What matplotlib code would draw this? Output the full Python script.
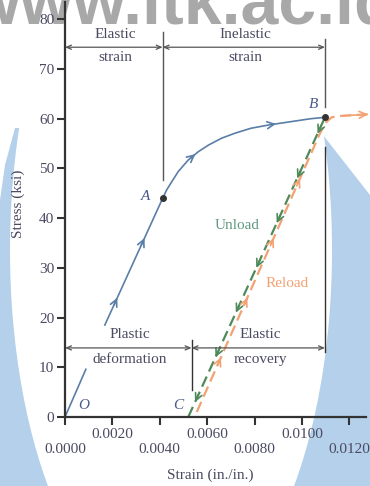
import numpy as np
import matplotlib.pyplot as plt
from matplotlib.patches import Polygon, Ellipse

plt.rcParams['font.family'] = ['Liberation Serif', 'DejaVu Serif']

# loading path O -> A (elastic part, broken where the labels sit)
load1_strain = [0.0, 0.00088]
load1_stress = [0.0, 9.6]
load2_strain = [0.00168, 0.00412]
load2_stress = [18.5, 44.0]
# A -> B (inelastic part)
curve_strain = [0.00412, 0.00429, 0.0045, 0.00478, 0.0052, 0.00563, 0.00605, 0.00661,
                0.00717, 0.00785, 0.00865, 0.0095, 0.01034, 0.01097]
curve_stress = [44.0, 45.7, 47.3, 49.4, 51.7, 53.4, 54.7, 56.1,
                57.1, 58.1, 58.8, 59.4, 60.0, 60.3]
# B -> C unloading
unload_strain = [0.0052, 0.01097]
unload_stress = [0.0, 60.3]
# C -> B -> reloading
reload_strain = [0.00556, 0.01076, 0.01100, 0.01125, 0.01170, 0.01278]
reload_stress = [1.0, 57.1, 59.2, 60.3, 60.6, 60.9]

point_A = (0.00412, 44.0)
point_B = (0.01097, 60.3)

xticks = [0.0, 0.002, 0.004, 0.006, 0.008, 0.010, 0.012]
yticks = [0, 10, 20, 30, 40, 50, 60, 70, 80]

# arrow positions along the paths
load_arrows = [24, 36]            # stress
curve_arrows = [0.0055, 0.0089]   # strain
unload_arrows = [57, 48, 39, 30, 21, 12, 3]
reload_arrows = [12, 24, 36, 48]

blue = '#5a7ea8'
green = '#4f8a5b'
orange = '#f2a272'
txt = '#4a4a62'
dim = '#555555'

W, H = 370, 486
fig = plt.figure(figsize=(3.7, 4.86), dpi=100)


def fx(px):
    return px / W


def fy(py):
    return 1 - py / H


# watermark background
bg = Polygon([(fx(15), fy(128)), (fx(5), fy(165)), (fx(0), fy(200)), (fx(0), fy(486)),
              (fx(370), fy(486)), (fx(370), fy(195)), (fx(323), fy(135))],
             closed=True, transform=fig.transFigure, facecolor='#b4d0ea',
             edgecolor='none', zorder=-3)
fig.patches.append(bg)
hole = Ellipse((fx(171), fy(250)), 322 / W, 732 / H, transform=fig.transFigure,
               facecolor='white', edgecolor='none', zorder=-2)
fig.patches.append(hole)
fig.text(fx(-33), fy(23), 'www.itk.ac.id', fontsize=49, fontweight='bold',
         family='Liberation Sans', color='#a8a8a8', va='baseline', zorder=-1)

ax = fig.add_axes([fx(65), fy(417), 301 / W, 415 / H])
ax.set_facecolor('none')
ax.set_xlim(0, 0.0127)
ax.set_ylim(0, 83.5)

for s in ['top', 'right']:
    ax.spines[s].set_visible(False)
for s in ['left', 'bottom']:
    ax.spines[s].set_linewidth(1.6)
    ax.spines[s].set_color('#333333')

ax.set_xticks(xticks)
ax.set_xticklabels([('\n' if i % 2 == 0 else '') + '%.4f' % v for i, v in enumerate(xticks)])
ax.set_yticks(yticks)
ax.tick_params(direction='out', length=5.8, width=1.5, color='#333333',
               labelsize=11, labelcolor=txt, pad=2)

ax.set_xlabel('Strain (in./in.)', fontsize=11, color=txt)
ax.xaxis.set_label_coords(0.482, -0.125)
ax.set_ylabel('Stress (ksi)', fontsize=11, color=txt)
ax.yaxis.set_label_coords(-0.133, 0.513)

# curves
ax.plot(load1_strain, load1_stress, color=blue, lw=1.2)
ax.plot(load2_strain + curve_strain[1:], load2_stress + curve_stress[1:], color=blue, lw=1.2)
ax.plot(unload_strain, unload_stress, color=green, lw=1.6, dashes=(5, 2.5))
ax.plot(reload_strain, reload_stress, color=orange, lw=1.6, dashes=(5, 2.5), clip_on=False)
ax.plot(*zip(point_A, point_B), 'o', color='#333333', ms=4, zorder=5)

head = '->,head_length=0.5,head_width=0.25'


def arrow(tip, tail, color):
    ax.annotate('', xy=tip, xytext=tail, annotation_clip=False,
                arrowprops=dict(arrowstyle=head, color=color, lw=1.2,
                                shrinkA=0, shrinkB=0))


for s in load_arrows:
    arrow((np.interp(s, load2_stress, load2_strain), s),
          (np.interp(s - 1.5, load2_stress, load2_strain), s - 1.5), blue)
for e in curve_arrows:
    arrow((e, np.interp(e, curve_strain, curve_stress)),
          (e - 0.0002, np.interp(e - 0.0002, curve_strain, curve_stress)), blue)
for s in unload_arrows:
    arrow((np.interp(s, unload_stress, unload_strain), s),
          (np.interp(s + 1.5, unload_stress, unload_strain), s + 1.5), green)
for s in reload_arrows:
    arrow((np.interp(s, reload_stress[:2], reload_strain[:2]), s),
          (np.interp(s - 1.5, reload_stress[:2], reload_strain[:2]), s - 1.5), orange)
arrow((reload_strain[-1], reload_stress[-1]), (reload_strain[-2], reload_stress[-2]), orange)

# dimension lines
dimhead = '<->,head_length=0.35,head_width=0.15'


def span(x0, x1, y):
    ax.annotate('', xy=(x1, y), xytext=(x0, y),
                arrowprops=dict(arrowstyle=dimhead, color=dim, lw=0.9,
                                shrinkA=0, shrinkB=0))


span(0, point_A[0], 74.4)
span(point_A[0], point_B[0], 74.4)
span(0, 0.00534, 13.9)
span(0.00534, point_B[0], 13.9)
ax.plot([point_A[0]] * 2, [77.5, 47.7], color=dim, lw=1.0)
ax.plot([point_B[0]] * 2, [76.0, 62.4], color=dim, lw=1.0)
ax.plot([point_B[0]] * 2, [54.4, 13.1], color='#333333', lw=1.0)
ax.plot([0.00534] * 2, [15.5, 5.4], color='#333333', lw=1.0)

kw = dict(fontsize=11, color=txt, ha='center', va='center')
ax.text(0.00213, 76.9, 'Elastic', **kw)
ax.text(0.00213, 72.4, 'strain', **kw)
ax.text(0.0076, 76.9, 'Inelastic', **kw)
ax.text(0.0076, 72.4, 'strain', **kw)
ax.text(0.00274, 16.5, 'Plastic', **kw)
ax.text(0.00274, 11.6, 'deformation', **kw)
ax.text(0.00823, 16.5, 'Elastic', **kw)
ax.text(0.00823, 11.6, 'recovery', **kw)
ax.text(0.00728, 38.6, 'Unload', fontsize=11, color='#5f9a80', ha='center', va='center')
ax.text(0.00935, 26.9, 'Reload', fontsize=11, color=orange, ha='center', va='center')

lk = dict(fontsize=11, color='#4a5a8a', style='italic', ha='center', va='center')
ax.text(0.00077, 2.4, 'O', **lk)
ax.text(0.00478, 2.4, 'C', **lk)
ax.text(0.0034, 44.3, 'A', **lk)
ax.text(0.01048, 62.8, 'B', **lk)

fig.savefig('out.png', dpi=100)
